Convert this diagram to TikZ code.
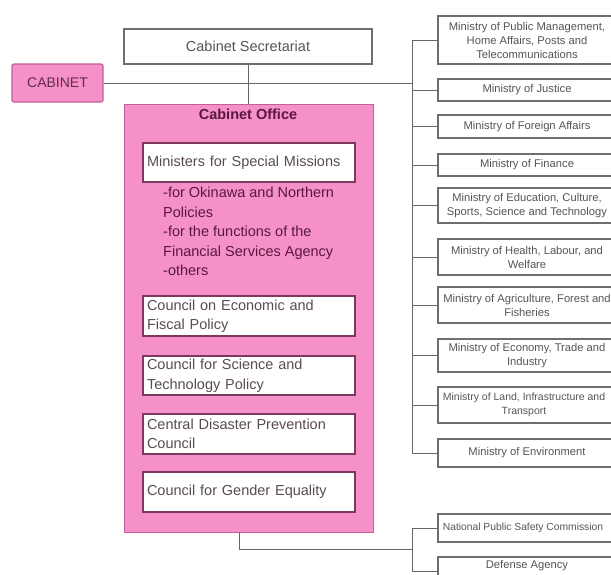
\documentclass[tikz,border=0pt]{standalone}
\usepackage{fontspec}
\setmainfont{Liberation Sans}
\definecolor{pinkfill}{HTML}{F590C8}
\definecolor{pinkborder}{HTML}{C2609A}
\definecolor{innerborder}{HTML}{7A3A5E}
\definecolor{linegray}{HTML}{666666}
\definecolor{boxgray}{HTML}{6E6E6E}
\definecolor{txtgray}{HTML}{555555}
\definecolor{innertxt}{HTML}{5A4A55}
\definecolor{maroon}{HTML}{5A1840}
\begin{document}
\begin{tikzpicture}[x=1pt,y=-1pt,
  conn/.style={draw=linegray,line width=1pt},
  minbox/.style={draw=boxgray,line width=1.1pt,fill=white,minimum width=178pt,inner xsep=0pt,inner ysep=1pt,align=center,font=\fontsize{11.2}{14}\selectfont,text=txtgray},
  mintext/.style={inner sep=0pt,align=center,font=\fontsize{11.2}{14}\selectfont,text=txtgray},
  innerbox/.style={draw=innerborder,line width=1.2pt,fill=white,minimum width=212pt,text width=204pt,inner xsep=4pt,inner ysep=0pt,align=left,font=\fontsize{14.5}{19.5}\selectfont,text=innertxt},
  topbox/.style={draw=boxgray,line width=1.1pt,fill=white,inner sep=0pt,font=\fontsize{14.5}{19.5}\selectfont,text=txtgray}]
\useasboundingbox (0,0) rectangle (611,574);
\clip (0,0) rectangle (611,574);
\fill[white] (0,0) rectangle (611,574);

% left part
\node[topbox,minimum width=248pt,minimum height=35pt] (sec) at (248,46.5) {Cabinet Secretariat};
\node[draw=pinkborder,line width=1.2pt,fill=pinkfill,rounded corners=2pt,minimum width=91pt,minimum height=38pt,inner sep=0pt,font=\fontsize{14}{17}\selectfont,text=maroon!80!gray] (cab) at (57.5,83) {CABINET};
\node[draw=pinkborder,line width=1pt,fill=pinkfill,minimum width=249pt,minimum height=428pt,inner sep=0pt] (co) at (248.5,318) {};
\node[font=\fontsize{14.5}{17}\selectfont\bfseries,text=maroon,inner sep=0pt] (cotitle) at (248,114) {Cabinet Office};

\node[innerbox,minimum height=39pt] (msm) at (249,162.5) {Ministers for Special Missions};
\node[anchor=north west,inner sep=0pt,align=left,font=\fontsize{14.5}{19.5}\selectfont,text=maroon] (msmtext) at (163,187) {-for Okinawa and Northern\\Policies\\-for the functions of the\\Financial Services Agency\\-others};
\node[innerbox,minimum height=40pt] (econ) at (249,316) {Council on Economic and\\Fiscal Policy};
\node[innerbox,minimum height=39pt] (sci) at (249,375.5) {Council for Science and\\Technology Policy};
\node[innerbox,minimum height=40pt] (dis) at (249,434) {Central Disaster Prevention\\Council};
\node[innerbox,minimum height=40pt] (gen) at (249,492) {Council for Gender Equality};

% ministries
\node[minbox,minimum height=48pt] (m1) at (527,40) {Ministry of Public Management,\\Home Affairs, Posts and\\Telecommunications};
\node[minbox,minimum height=22pt] (m2) at (527,90) {Ministry of Justice};
\node[minbox,minimum height=23pt] (m3) at (527,126.5) {Ministry of Foreign Affairs};
\node[minbox,minimum height=22pt] (m4) at (527,165) {Ministry of Finance};
\node[minbox,minimum height=35pt] (m5) at (527,205.5) {Ministry of Education, Culture,\\Sports, Science and Technology};
\node[minbox,minimum height=36pt] (m6) at (527,257) {Ministry of Health, Labour, and\\Welfare};
\node[minbox,minimum height=36pt] (m7) at (527,305) {Ministry of Agriculture, Forest and\\Fisheries};
\node[minbox,minimum height=33pt] (m8) at (527,355.5) {Ministry of Economy, Trade and\\Industry};
\node[minbox,minimum height=36pt] (m9) at (527,405) {};
\node[mintext,font=\fontsize{10.5}{14}\selectfont] (m9t) at (524,405) {Ministry of Land, Infrastructure and\\Transport};
\node[minbox,minimum height=28pt] (m10) at (527,453) {Ministry of Environment};
\node[minbox,minimum height=28pt] (m11) at (527,528) {};
\node[mintext,font=\fontsize{10.3}{14}\selectfont] (m11t) at (523,528) {National Public Safety Commission};
\node[minbox,minimum height=28pt] (m12) at (527,571) {};
\node[mintext] (m12t) at (527,566) {Defense Agency};

% connectors
\coordinate (busTop) at (412,40);
\coordinate (busBot) at (412,453);
\coordinate (lbusTop) at (412,528);
\coordinate (lbusBot) at (412,571);
\coordinate (coDown) at (239,549);
\coordinate (coJoin) at (412,549);
\coordinate (coOut) at (239,532);

\draw[conn] (cab.east) -- (cab.east -| busTop);
\draw[conn] (sec.south) -- (sec.south |- co.north);
\draw[conn] (busTop) -- (busBot);
\foreach \m in {m1,m2,m3,m4,m5,m6,m7,m8,m9,m10}{
  \draw[conn] (\m.west -| busTop) -- (\m.west);
}
\draw[conn] (coOut) -- (coDown) -- (coJoin);
\draw[conn] (lbusTop) -- (lbusBot);
\draw[conn] (lbusTop) -- (m11.west);
\draw[conn] (lbusBot) -- (m12.west);
\end{tikzpicture}
\end{document}
